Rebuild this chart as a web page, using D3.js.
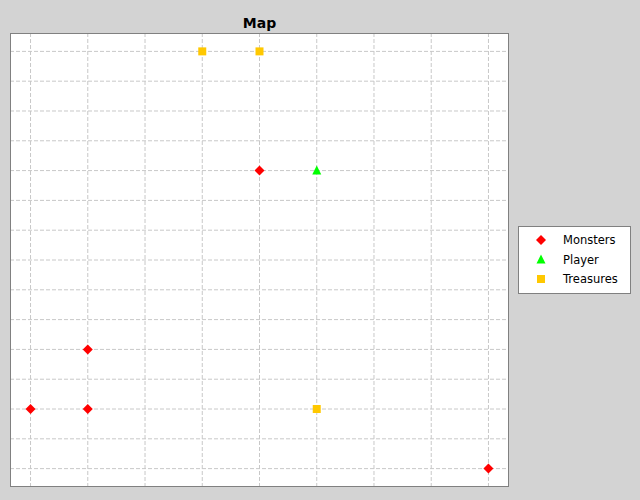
<!DOCTYPE html>
<html><head><meta charset="utf-8">
<script src="https://cdn.jsdelivr.net/npm/d3@7"></script>
<style>html,body{margin:0;padding:0;background:#d3d3d3;}svg{display:block;}</style>
</head><body>
<script>
const seriesNames = ["Monsters", "Player", "Treasures"];
const seriesColors = ["#ff0000", "#00ff00", "#ffc800"];
const monstersX = [0, 1, 1, 4, 8];
const monstersY = [2, 2, 4, 10, 0];
const playerX = [5];
const playerY = [10];
const treasuresX = [3, 4, 5];
const treasuresY = [14, 14, 2];
const xTicks = d3.range(0, 9);
const yTicks = d3.range(0, 15);

const W = 640, H = 500;
const plot = {left: 10, top: 33, right: 509, bottom: 487};
const svg = d3.select("body").append("svg").attr("width", W).attr("height", H);
svg.append("rect").attr("width", W).attr("height", H).attr("fill", "#d3d3d3");

const x = d3.scaleLinear().domain([-0.35, 8.35]).range([plot.left + 0.5, plot.right - 0.5]);
const y = d3.scaleLinear().domain([-0.6, 14.6]).range([plot.bottom - 0.5, plot.top + 0.5]);

svg.append("rect").attr("x", plot.left).attr("y", plot.top)
  .attr("width", plot.right - plot.left).attr("height", plot.bottom - plot.top)
  .attr("fill", "#ffffff");

const grid = svg.append("g").attr("stroke", "#c8c8c8").attr("stroke-width", 1).attr("stroke-dasharray", "4,2");
grid.selectAll("line.v").data(xTicks).join("line")
  .attr("x1", d => x(d)).attr("x2", d => x(d)).attr("y1", plot.top).attr("y2", plot.bottom);
grid.selectAll("line.h").data(yTicks).join("line")
  .attr("y1", d => y(d)).attr("y2", d => y(d)).attr("x1", plot.left).attr("x2", plot.right);

// invisible axes (no labels shown in reference)
svg.append("g").attr("transform", `translate(0,${plot.bottom})`)
  .call(d3.axisBottom(x).tickValues(xTicks).tickSize(0).tickFormat(""))
  .call(g => g.select(".domain").remove());
svg.append("g").attr("transform", `translate(${plot.left},0)`)
  .call(d3.axisLeft(y).tickValues(yTicks).tickSize(0).tickFormat(""))
  .call(g => g.select(".domain").remove());

svg.append("rect").attr("x", plot.left + 0.5).attr("y", plot.top + 0.5)
  .attr("width", plot.right - plot.left - 1).attr("height", plot.bottom - plot.top - 1)
  .attr("fill", "none").attr("stroke", "#808080").attr("stroke-width", 1);

const diamond = "M0,-5L5,0L0,5L-5,0Z";
const triangle = "M0,-5L4.5,4L-4.5,4Z";
const square = "M-4,-4H4V4H-4Z";
const shapes = [diamond, triangle, square];

const series = [
  d3.zip(monstersX, monstersY),
  d3.zip(playerX, playerY),
  d3.zip(treasuresX, treasuresY)
];
series.forEach((pts, i) => {
  svg.append("g").selectAll("path").data(pts).join("path")
    .attr("d", shapes[i])
    .attr("transform", d => `translate(${x(d[0])},${y(d[1])})`)
    .attr("fill", seriesColors[i]);
});

svg.append("text").attr("x", (plot.left + plot.right) / 2).attr("y", 28)
  .attr("text-anchor", "middle").attr("font-family", "DejaVu Sans")
  .attr("font-weight", "bold").attr("font-size", 14).text("Map");

const lg = svg.append("g");
lg.append("rect").attr("x", 518.5).attr("y", 226.5).attr("width", 112).attr("height", 67)
  .attr("fill", "#ffffff").attr("stroke", "#808080");
seriesNames.forEach((n, i) => {
  const cy = 240 + i * 19.5;
  lg.append("path").attr("d", shapes[i]).attr("transform", `translate(541,${cy})`).attr("fill", seriesColors[i]);
  lg.append("text").attr("x", 563).attr("y", cy + 4).attr("font-family", "DejaVu Sans")
    .attr("font-size", 11.5).attr("fill", "#000").text(n);
});
</script>
</body></html>
